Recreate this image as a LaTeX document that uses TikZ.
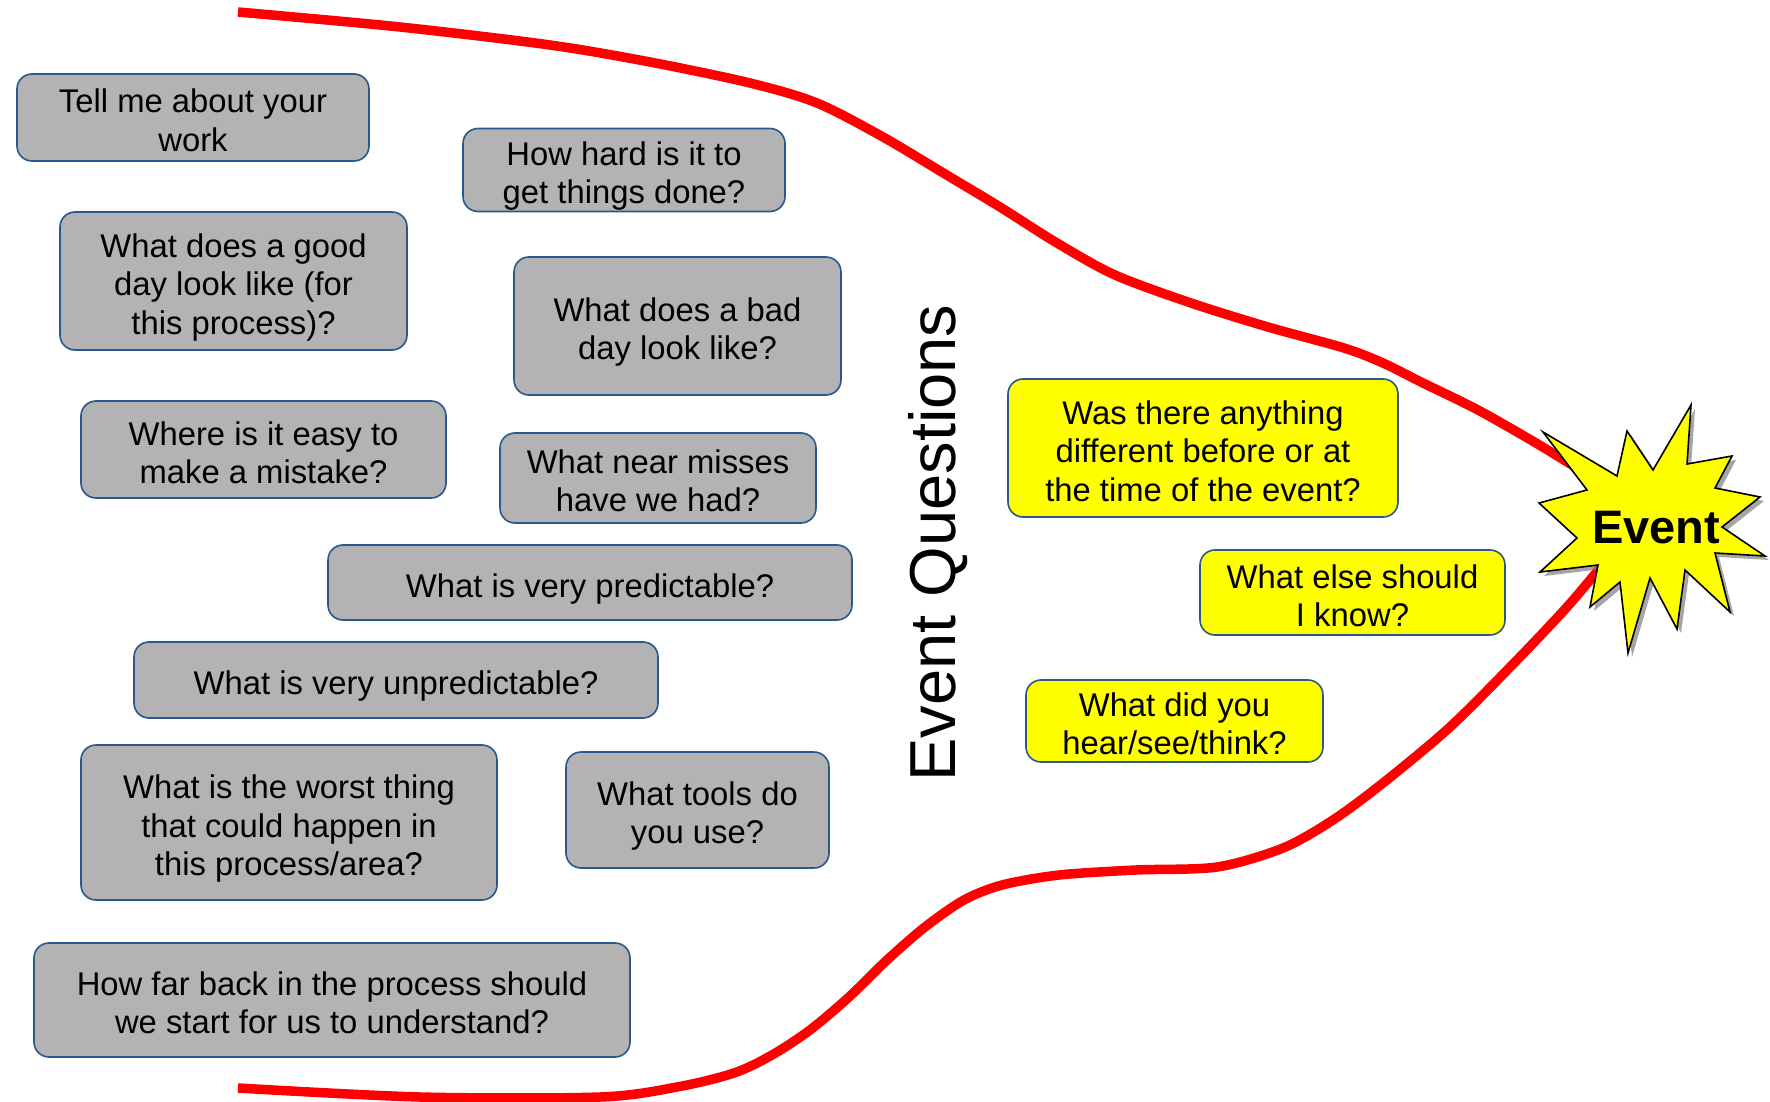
\documentclass[tikz,border=0pt]{standalone}
\usepackage{fontspec}
\setmainfont{Liberation Sans}
\definecolor{boxblue}{RGB}{40,88,140}
\definecolor{boxgray}{RGB}{179,179,179}
\definecolor{evyellow}{RGB}{255,255,0}
% fixed line box: first line ascent 36pt, given depth below first baseline
\newcommand{\qlines}[2]{\raisebox{0pt}[36pt][#1]{\begin{tabular}[t]{@{}c@{}}#2\end{tabular}}}
\begin{document}
\begin{tikzpicture}[x=1pt,y=-1pt,
  qbox/.style={draw=boxblue, line width=1.6pt, rounded corners=15pt, fill=boxgray,
    inner sep=0pt, font=\fontsize{32.8}{38.4}\selectfont},
  ybox/.style={qbox, fill=evyellow},
  redline/.style={draw=red, line width=9.5pt},
  burst/.style={draw=black, line width=1.6pt, fill=evyellow, line join=miter}]
\useasboundingbox (0,0) rectangle (1770,1102);

% funnel curves
\draw[redline] plot[smooth, tension=0.5] coordinates {(238,12) (400,27) (550,45) (650,62) (750,83) (817,103) (883,137) (950,177) (1000,207) (1057,243) (1115,275) (1191,303) (1268,327) (1344,348) (1383,363) (1421,382) (1478,410) (1536,443) (1580,470)};
\draw[redline] plot[smooth, tension=0.5] coordinates {(238,1088) (420,1097) (600,1097) (677,1087) (734,1073) (772,1055) (810,1030) (849,997) (887,960) (925,927) (964,900) (1002,885) (1059,875) (1136,870) (1217,867) (1283,848) (1333,820) (1383,783) (1450,727) (1517,660) (1567,607) (1600,568)};

% question boxes
\node[qbox, minimum width=352pt, minimum height=87pt] (q1) at (193,117.5) {\qlines{45pt}{Tell me about your\\work}};
\node[qbox, minimum width=322pt, minimum height=83pt] (q2) at (624,170) {\qlines{45pt}{How hard is it to\\get things done?}};
\node[qbox, minimum width=347pt, minimum height=138pt] (q3) at (233.5,281) {\qlines{83.4pt}{What does a good\\day look like (for\\this process)?}};
\node[qbox, minimum width=327pt, minimum height=138pt] (q4) at (677.5,326) {\qlines{45pt}{What does a bad\\day look like?}};
\node[qbox, minimum width=365pt, minimum height=97pt] (q5) at (263.5,449.5) {\qlines{45pt}{Where is it easy to\\make a mistake?}};
\node[qbox, minimum width=316pt, minimum height=90pt] (q6) at (658,478) {\qlines{45pt}{What near misses\\have we had?}};
\node[qbox, minimum width=524pt, minimum height=75pt] (q7) at (590,582.5) {\qlines{6.6pt}{What is very predictable?}};
\node[qbox, minimum width=524pt, minimum height=76pt] (q8) at (396,680) {\qlines{6.6pt}{What is very unpredictable?}};
\node[qbox, minimum width=416pt, minimum height=155pt] (q9) at (289,822.5) {\qlines{83.4pt}{What is the worst thing\\that could happen in\\this process/area?}};
\node[qbox, minimum width=263pt, minimum height=116pt] (q10) at (697.5,810) {\qlines{45pt}{What tools do\\you use?}};
\node[qbox, minimum width=596pt, minimum height=114pt] (q11) at (332,1000) {\qlines{45pt}{How far back in the process should\\we start for us to understand?}};

% event questions
\node[ybox, minimum width=390pt, minimum height=138pt] (y1) at (1203,448) {\qlines{83.4pt}{Was there anything\\different before or at\\the time of the event?}};
\node[ybox, minimum width=305pt, minimum height=85pt] (y2) at (1352.5,592.5) {\qlines{45pt}{What else should\\I know?}};
\node[ybox, minimum width=297pt, minimum height=82pt] (y3) at (1174.5,721) {\qlines{45pt}{What did you\\hear/see/think?}};

% vertical title
\node[rotate=90, anchor=base, inner sep=0pt, font=\fontsize{65}{70}\selectfont] (title) at (955,543) {Event Questions};

% starburst
\fill[black!50, opacity=0.7, shift={(4,4)}] (1543,432) -- (1617,476) -- (1627,431) -- (1653,470) -- (1691,405) -- (1687,464) -- (1732,456) -- (1715,488) -- (1760,497) -- (1722,527) -- (1765,556) -- (1715,553) -- (1730,612) -- (1685,570) -- (1677,629) -- (1650,578) -- (1628,653) -- (1620,582) -- (1590,607) -- (1598,565) -- (1540,572) -- (1577,538) -- (1539,503) -- (1587,490) -- cycle;
\draw[burst] (1543,432) -- (1617,476) -- (1627,431) -- (1653,470) -- (1691,405) -- (1687,464) -- (1732,456) -- (1715,488) -- (1760,497) -- (1722,527) -- (1765,556) -- (1715,553) -- (1730,612) -- (1685,570) -- (1677,629) -- (1650,578) -- (1628,653) -- (1620,582) -- (1590,607) -- (1598,565) -- (1540,572) -- (1577,538) -- (1539,503) -- (1587,490) -- cycle;
\node[font=\bfseries\fontsize{47}{50}\selectfont, inner sep=0pt] (event) at (1656,528) {Event};
\end{tikzpicture}
\end{document}
